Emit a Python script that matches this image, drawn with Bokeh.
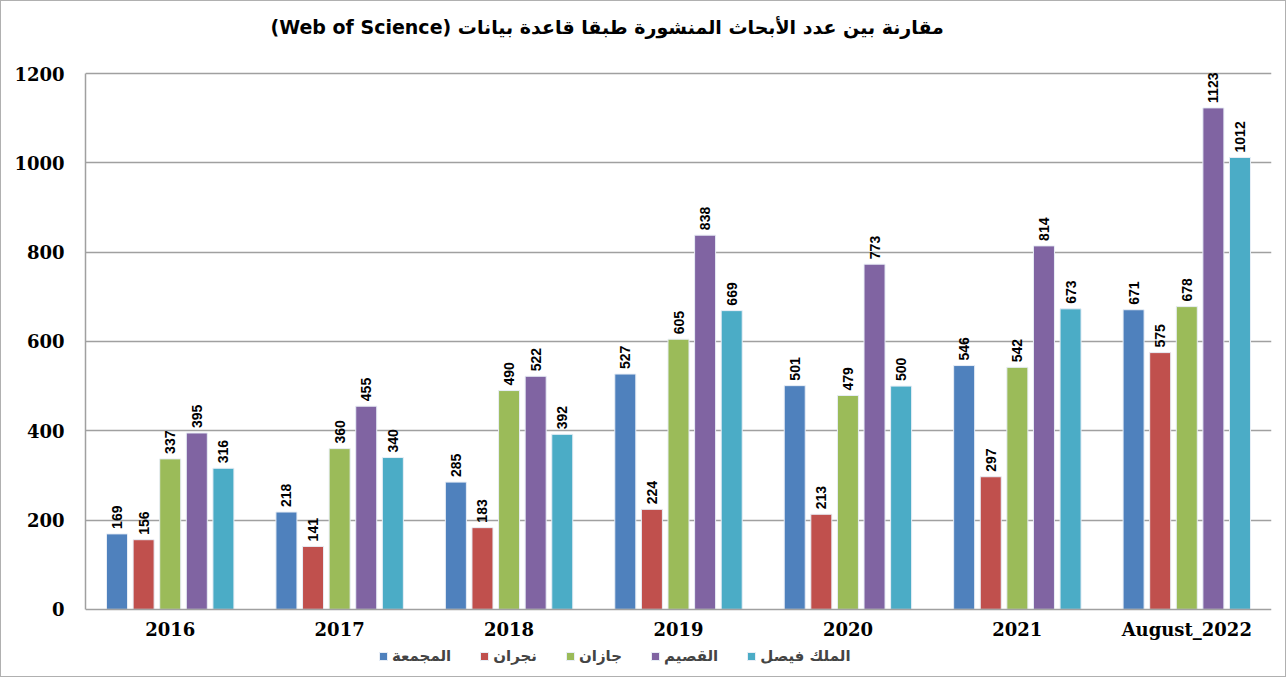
from bokeh.plotting import figure
from bokeh.models import ColumnDataSource, Range1d, FixedTicker, Legend, LegendItem, Title
from bokeh.core.properties import value
from bokeh.embed import file_html
from bokeh.resources import INLINE
import math

categories = ["2016", "2017", "2018", "2019", "2020", "2021", "August_2022"]
series_names = ["المجمعة", "نجران", "جازان", "القصيم", "الملك فيصل"]
majmaah = [169, 218, 285, 527, 501, 546, 671]
najran = [156, 141, 183, 224, 213, 297, 575]
jazan = [337, 360, 490, 605, 479, 542, 678]
qassim = [395, 455, 522, 838, 773, 814, 1123]
king_faisal = [316, 340, 392, 669, 500, 673, 1012]
y_ticks = [0, 200, 400, 600, 800, 1000, 1200]

series = [majmaah, najran, jazan, qassim, king_faisal]
colors = ["#4F81BD", "#C0504D", "#9BBB59", "#8064A2", "#4BACC6"]

p = figure(width=1286, height=677, output_backend="svg", toolbar_location=None,
           x_range=Range1d(0, 7), y_range=Range1d(-154.8, 1256),
           min_border_left=84, min_border_right=16, min_border_top=47, min_border_bottom=0)
p.outline_line_color = None
p.background_fill_color = "white"
p.border_fill_color = "white"

step = 0.157
bw = 0.124
renderers = []
for j, (vals, col) in enumerate(zip(series, colors)):
    xs = [i + 0.5 + (j - 2) * step for i in range(len(categories))]
    src = ColumnDataSource(dict(x=xs, top=vals, lab=[str(v) for v in vals]))
    r = p.vbar(x="x", top="top", width=bw, bottom=0, source=src, fill_color=col,
               line_color="#e8eef6", line_width=1)
    renderers.append(r)
    p.text(x="x", y="top", text="lab", source=src, angle=math.pi / 2,
           text_align="left", text_baseline="middle", x_offset=0, y_offset=-5,
           text_font=value("Liberation Sans"), text_font_style="bold",
           text_font_size="14px", text_color="black")

# axes
p.yaxis.ticker = FixedTicker(ticks=y_ticks)
p.yaxis.bounds = (0, 1200)
p.yaxis.major_tick_line_color = None
p.yaxis.minor_tick_line_color = None
p.yaxis.axis_line_color = "#a0a0a0"
p.yaxis.axis_line_width = 1.5
p.yaxis.major_label_text_font = "DejaVu Serif"
p.yaxis.major_label_text_font_style = "bold"
p.yaxis.major_label_text_font_size = "18px"
p.yaxis.major_label_text_color = "black"
p.yaxis.major_label_standoff = 15

p.xaxis.fixed_location = 0
p.xaxis.ticker = FixedTicker(ticks=[i + 0.5 for i in range(len(categories))])
p.xaxis.major_label_overrides = {i + 0.5: c for i, c in enumerate(categories)}
p.xaxis.major_tick_line_color = None
p.xaxis.minor_tick_line_color = None
p.xaxis.axis_line_color = "#a0a0a0"
p.xaxis.axis_line_width = 1.5
p.xaxis.major_label_text_font = "DejaVu Serif"
p.xaxis.major_label_text_font_style = "bold"
p.xaxis.major_label_text_font_size = "18px"
p.xaxis.major_label_text_color = "black"
p.xaxis.major_label_standoff = 4

p.xgrid.grid_line_color = None
p.ygrid.ticker = FixedTicker(ticks=y_ticks[1:])
p.ygrid.grid_line_color = "#a0a0a0"
p.ygrid.grid_line_width = 1.5

p.title = Title(text="(Web of Science) مقارنة بين عدد الأبحاث المنشورة طبقا قاعدة بيانات",
                align="left", offset=177, vertical_align="top", padding=8,
                text_font="DejaVu Sans", text_font_style="bold",
                text_font_size="19px", text_color="black", standoff=2)

legend = Legend(items=[LegendItem(label=n, renderers=[r]) for n, r in zip(series_names, renderers)],
                orientation="horizontal", location=(293, 13), border_line_color=None,
                background_fill_alpha=0, label_text_font="DejaVu Sans",
                label_text_font_style="bold", label_text_font_size="15px",
                glyph_width=10, glyph_height=10, label_standoff=4, spacing=28,
                padding=0, margin=0)
p.add_layout(legend, "center")

p.styles = {"border": "1px solid #b0b0b0"}

open("out.html", "w").write(file_html(p, INLINE))
